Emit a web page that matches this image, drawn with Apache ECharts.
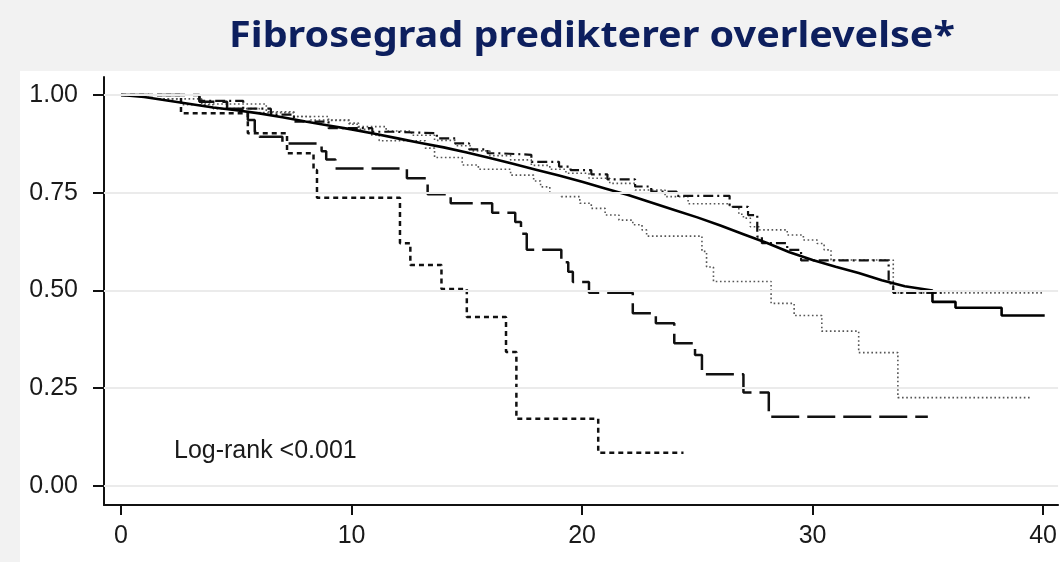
<!DOCTYPE html>
<html>
<head>
<meta charset="utf-8">
<script src="https://cdn.jsdelivr.net/npm/echarts@6/dist/echarts.min.js"></script>
<style>
html,body{margin:0;padding:0;background:#f2f2f2;}
#chart{width:1060px;height:562px;}
</style>
</head>
<body>
<div id="chart"></div>
<script>
// ---- data ----
const titleText = 'Fibrosegrad predikterer overlevelse*';
const noteText = 'Log-rank <0.001';
const xTicks = [0, 10, 20, 30, 40];
const yTicks = [0, 0.25, 0.5, 0.75, 1.0];

// solid curve (smooth, with final steps)
const solidT = [0,1,2,3,4,5,6,7,8,9,10,11,12,13,14,15,16,17,18,19,20,21,22,23,24,25,26,27,28,29,30,31,32,33,34,35.2,35.2,36.2,36.2,38.2,38.2,40.07];
const solidS = [1.0,0.995,0.986,0.977,0.968,0.961,0.953,0.943,0.932,0.922,0.912,0.901,0.889,0.877,0.866,0.853,0.839,0.824,0.809,0.794,0.778,0.761,0.744,0.725,0.706,0.687,0.666,0.644,0.622,0.598,0.578,0.561,0.545,0.526,0.511,0.50,0.471,0.471,0.456,0.456,0.436,0.436];

// dash-dot curve (step)
const dashDotT = [0,3.4,5.3,6.5,7.5,9.0,10.9,11.8,13.7,14.5,15.1,15.9,16.4,17.8,19.0,19.5,20.4,21.1,22.3,23.0,24.1,26.4,27.2,27.6,27.8,28.9,29.5,33.3,33.5,35.6];
const dashDotS = [1.0,0.985,0.965,0.95,0.932,0.915,0.906,0.902,0.889,0.876,0.861,0.851,0.847,0.829,0.817,0.808,0.797,0.784,0.766,0.753,0.742,0.714,0.693,0.638,0.621,0.604,0.577,0.518,0.494,0.494];

// upper dotted curve (step)
const dotUpT = [0,1.5,3.5,6.3,7.5,8.2,9.9,10.3,11.5,12.6,13.6,14.5,15.2,16.0,16.9,17.8,18.6,19.3,20.3,21.2,22.3,23.6,24.6,26.4,26.8,27.0,27.3,27.7,28.9,29.6,30.2,30.5,30.8,33.5,40.0];
const dotUpS = [1.0,0.99,0.977,0.957,0.945,0.936,0.928,0.919,0.908,0.897,0.884,0.87,0.857,0.845,0.834,0.82,0.81,0.80,0.787,0.774,0.757,0.74,0.722,0.714,0.695,0.685,0.663,0.655,0.642,0.629,0.62,0.604,0.578,0.494,0.494];

// lower dotted curve (step)
const dotLowT = [0,1.5,2.6,4.0,6.0,7.5,9.0,9.9,10.3,10.8,11.2,13.2,13.6,14.8,15.5,16.9,17.9,18.2,18.6,19.1,19.9,20.4,21.0,21.6,22.2,22.6,22.8,25.2,25.4,25.7,28.2,29.2,30.4,32.0,33.7,39.5];
const dotLowS = [1.0,0.99,0.975,0.965,0.955,0.945,0.935,0.925,0.912,0.898,0.883,0.864,0.84,0.821,0.81,0.795,0.78,0.765,0.749,0.74,0.723,0.71,0.693,0.68,0.668,0.655,0.639,0.60,0.56,0.523,0.467,0.436,0.396,0.341,0.226,0.226];

// long-dash curve (step)
const longDashT = [0,3.4,4.6,5.5,5.8,6.0,7.0,8.7,8.9,9.3,12.4,13.3,14.3,16.1,17.1,17.35,17.6,19.1,19.4,19.6,20.3,22.2,23.2,24.0,24.9,25.2,27.0,28.1,35.0];
const longDashS = [1.0,0.983,0.965,0.936,0.906,0.893,0.876,0.856,0.835,0.812,0.787,0.746,0.723,0.699,0.675,0.645,0.604,0.572,0.548,0.522,0.494,0.442,0.416,0.365,0.335,0.286,0.239,0.177,0.177];

// short-dash curve (step)
const shortDashT = [0,2.6,5.5,7.2,8.35,8.5,12.1,12.55,13.9,15.0,16.7,17.15,20.7,24.4];
const shortDashS = [1.0,0.953,0.902,0.851,0.808,0.737,0.621,0.565,0.504,0.432,0.343,0.172,0.085,0.085];

const pairs = (t, s) => t.map((v, i) => [v, s[i]]);

const chart = echarts.init(document.getElementById('chart'), null, {renderer: 'canvas'});
const labelFont = 'Liberation Sans, Arial, sans-serif';

function stepSeries(name, t, s, style, z) {
  return {
    name, type: 'line', step: 'end', data: pairs(t, s),
    showSymbol: false, symbol: 'none', silent: true, z: z,
    lineStyle: style
  };
}

chart.setOption({
  animation: false,
  backgroundColor: '#f2f2f2',
  graphic: [
    {type: 'rect', z: -10, shape: {x: 20, y: 71, width: 1040, height: 491}, style: {fill: '#ffffff'}, silent: true},
    {type: 'text', x: 592, y: 37, z: 10, scaleX: 1.13, scaleY: 1,
      style: {text: titleText, fill: '#0d1f5e', font: 'bold 35px "Noto Sans", "Open Sans", sans-serif', textAlign: 'center', textVerticalAlign: 'middle'}},
    {type: 'text', x: 174, y: 451, z: 10, style: {text: noteText, fill: '#1a1a1a', font: '25px "Liberation Sans", Arial, sans-serif', textAlign: 'left', textVerticalAlign: 'middle'}}
  ],
  grid: {left: 104, right: 0, top: 77, bottom: 57, containLabel: false},
  xAxis: {
    type: 'value', min: -0.74, max: 40.65,
    axisLine: {show: true, onZero: false, lineStyle: {color: '#111', width: 2}},
    axisTick: {show: true, length: 10, customValues: xTicks, lineStyle: {color: '#111', width: 2}},
    axisLabel: {customValues: xTicks, color: '#1a1a1a', fontSize: 25, fontFamily: labelFont, margin: 19},
    splitLine: {show: false}
  },
  yAxis: {
    type: 'value', min: -0.0486, max: 1.046,
    axisLine: {show: true, onZero: false, lineStyle: {color: '#111', width: 2}},
    axisTick: {show: true, length: 11, customValues: yTicks, lineStyle: {color: '#111', width: 2}},
    axisLabel: {customValues: yTicks, color: '#1a1a1a', fontSize: 25, fontFamily: labelFont, margin: 26,
      formatter: v => Number(v).toFixed(2)},
    splitLine: {show: false}
  },
  series: [
    {
      name: 'grid', type: 'line', data: [[0, 0]], symbol: 'none', silent: true, z: 0,
      lineStyle: {opacity: 0},
      markLine: {
        silent: true, symbol: ['none', 'none'], animation: false,
        label: {show: false},
        lineStyle: {color: '#ebebeb', width: 2, type: 'solid'},
        data: yTicks.map(v => ({yAxis: v}))
      }
    },
    stepSeries('dotLow', dotLowT, dotLowS, {color: '#555', width: 1.6, type: [1.6, 2.6]}, 2),
    stepSeries('dotUp', dotUpT, dotUpS, {color: '#555', width: 1.6, type: [1.6, 2.6]}, 2),
    stepSeries('dashDot', dashDotT, dashDotS, {color: '#111', width: 2.2, type: [10, 4, 2, 4]}, 3),
    stepSeries('longDash', longDashT, longDashS, {color: '#111', width: 2.5, type: [28, 8]}, 3),
    stepSeries('shortDash', shortDashT, shortDashS, {color: '#111', width: 2.5, type: [5, 4]}, 3),
    {
      name: 'solid', type: 'line', data: pairs(solidT, solidS), showSymbol: false, symbol: 'none', silent: true, z: 4,
      lineStyle: {color: '#000', width: 2.6}
    }
  ]
});
</script>
</body>
</html>
